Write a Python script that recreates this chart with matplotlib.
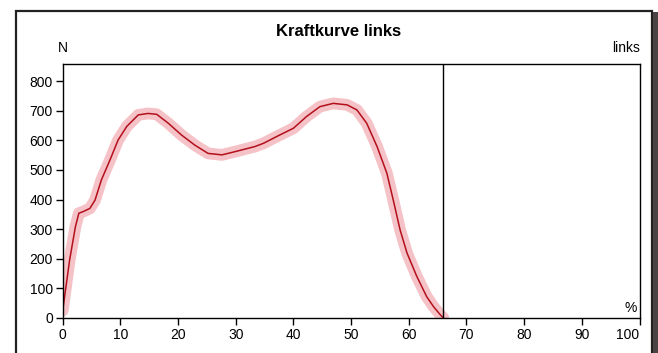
import matplotlib
matplotlib.use('Agg')
import matplotlib.pyplot as plt
from matplotlib.patches import Rectangle

plt.rcParams['font.family'] = ['Liberation Sans', 'DejaVu Sans']

# Kraftkurve (Prozent der Zeit, Kraft in N)
prozent = [0, 1.2, 2.2, 2.8, 3.5, 4.7, 5.6, 6.7, 8.2, 9.6, 11.1, 13.1, 14.8, 16.3,
           18.3, 20.6, 22.9, 25.2, 27.6, 29.9, 33.3, 34.8, 37.1, 40.0, 42.3, 44.6,
           46.9, 49.3, 51.0, 52.7, 54.5, 56.2, 57.3, 58.5, 59.7, 61.4, 63.1, 64.3,
           65.5, 66.0]
kraft = [25, 196, 308, 354, 359, 370, 398, 466, 534, 601, 647, 686, 691, 688,
         658, 618, 584, 556, 551, 562, 579, 590, 613, 641, 681, 714, 725, 720,
         703, 658, 579, 489, 399, 297, 219, 140, 72, 38, 10, 0]
ende = 66
xticks = [0, 10, 20, 30, 40, 50, 60, 70, 80, 90, 100]
yticks = [0, 100, 200, 300, 400, 500, 600, 700, 800]

fig = plt.figure(figsize=(6.58, 3.53), dpi=100)
ax = fig.add_axes([0.0953, 0.0992, 0.8766, 0.7195])
ax.set_zorder(2)

# Rahmen + Schatten
fig.patches.append(Rectangle((0.0243, -0.02), 0.9666, 0.9888, transform=fig.transFigure,
                             facecolor='white', edgecolor='#222222', lw=1.6, zorder=0))
fig.patches.append(Rectangle((0.9925, -0.02), 0.0075, 0.985, transform=fig.transFigure,
                             facecolor='#4a4444', edgecolor='none', zorder=0))

# Streuband und Mittelwert
ax.plot(prozent, kraft, color='#f4b8bd', lw=8.5, solid_capstyle='round',
        solid_joinstyle='round', alpha=0.85)
ax.plot(prozent, kraft, color='#b3101c', lw=1.1, solid_joinstyle='round')
ax.axvline(ende, color='black', lw=1)

ax.set_xlim(0, 100)
ax.set_ylim(0, 858)
ax.set_xticks(xticks)
ax.set_yticks(yticks)
ax.tick_params(direction='out', length=5, width=1, labelsize=10, pad=2, colors='black')
ax.get_xticklabels()[-1].set_horizontalalignment('right')
for s in ax.spines.values():
    s.set_linewidth(1)

fig.text(0.514, 0.912, 'Kraftkurve links', ha='center', va='center', fontsize=12,
         fontweight='bold', zorder=3)
fig.text(0.0953, 0.865, 'N', ha='center', va='center', fontsize=10, zorder=3)
fig.text(0.972, 0.865, 'links', ha='right', va='center', fontsize=10, zorder=3)
ax.text(0.995, 0.01, '%', transform=ax.transAxes, ha='right', va='bottom', fontsize=10)

fig.savefig('out.png', dpi=100)
